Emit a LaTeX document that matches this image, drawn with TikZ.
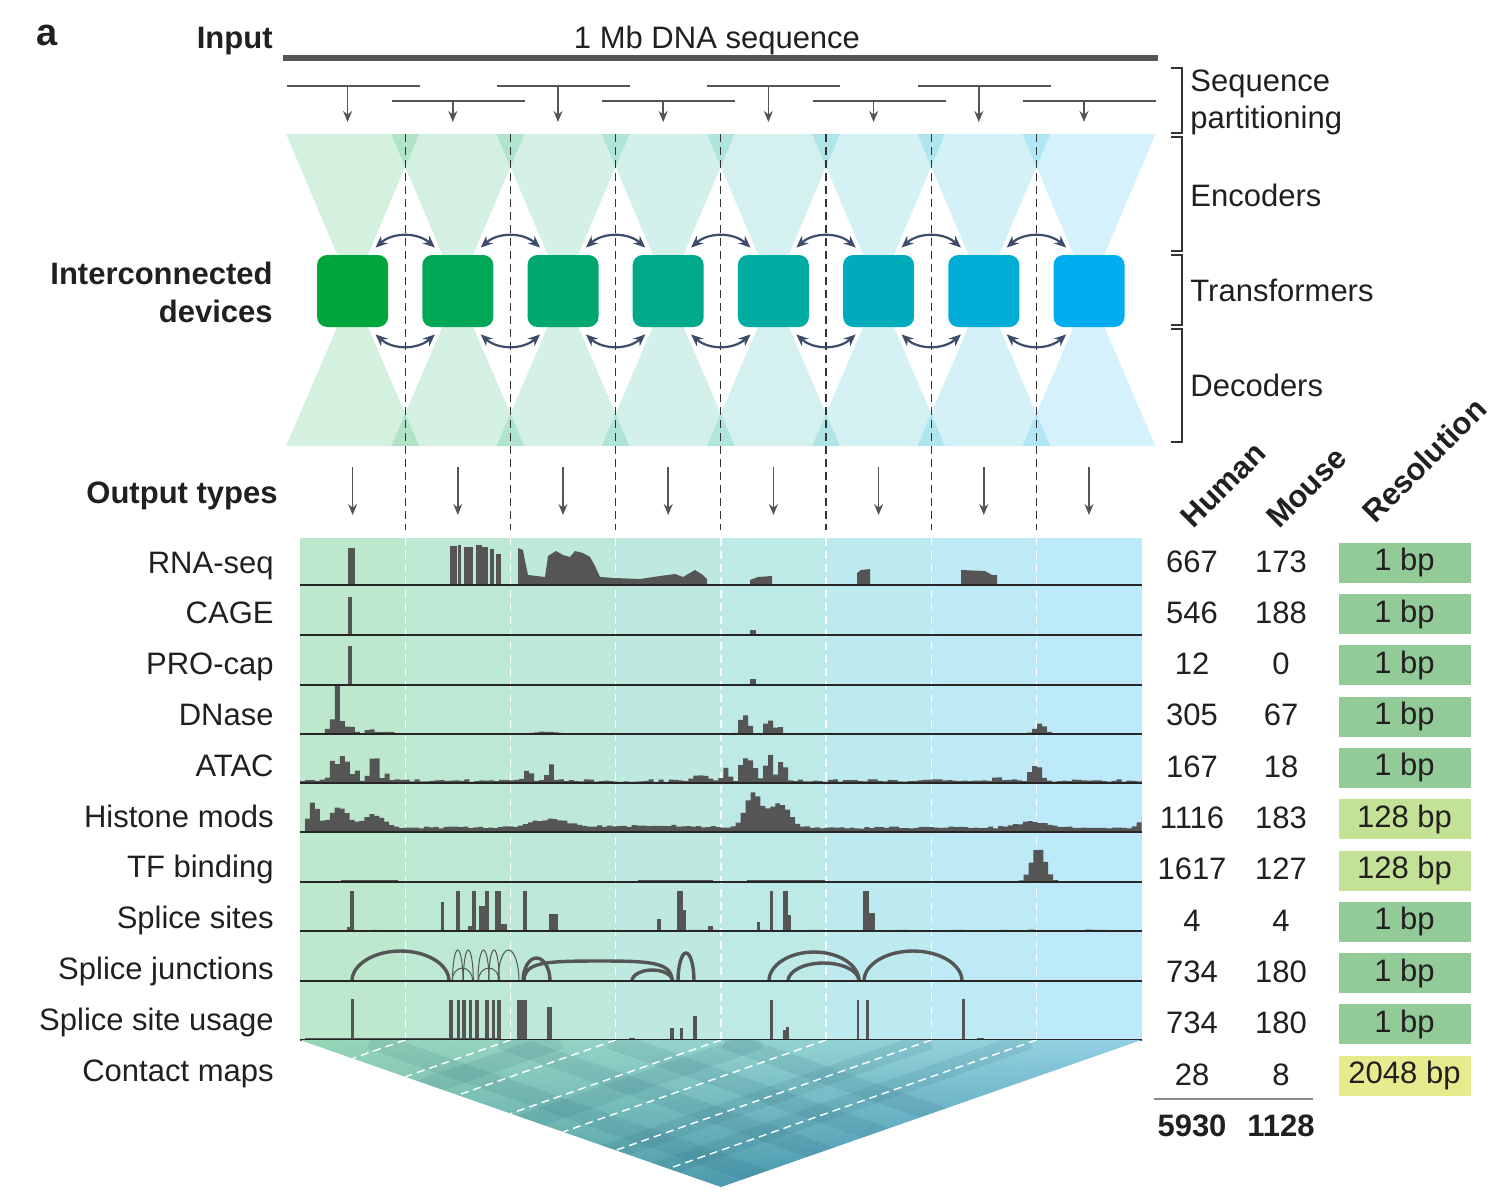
\documentclass[tikz,border=0pt]{standalone}
\usepackage{fontspec}
\setmainfont{Liberation Sans}
\usetikzlibrary{arrows.meta,shadings}

\definecolor{ink}{HTML}{555555}
\definecolor{txt}{HTML}{231F20}
\definecolor{devA}{RGB}{0,166,60}
\definecolor{devB}{RGB}{0,174,239}
\definecolor{linkc}{HTML}{3D4C6B}
\definecolor{resA}{RGB}{146,203,151}
\definecolor{resB}{RGB}{196,226,150}
\definecolor{resC}{RGB}{230,236,142}
\definecolor{cmA}{RGB}{150,214,182}
\definecolor{cmB}{RGB}{146,208,228}
\definecolor{cmC}{RGB}{92,166,160}
\definecolor{cmD}{RGB}{58,140,186}
\definecolor{cmDark}{RGB}{25,85,105}

\newcommand{\basefont}{\fontsize{15.5pt}{18.5pt}\selectfont}
% one gaussian bump of a track, #1 centre, #2 width, #3 height
\newcommand{\pk}[3]{(#3)*exp(-1*pow(min(abs(\x-(#1))/(#2),3.5),2))}
% one splice junction arc: x1, x2, base, top
\newcommand{\junc}[5][]{%
  \draw[jn,#1] (#2,#4) .. controls (#2,{#4-0.55*(#4-#5)}) and ({(#2+#3)/2-0.55*(#3-#2)/2},#5) .. ({(#2+#3)/2},#5)
    .. controls ({(#2+#3)/2+0.55*(#3-#2)/2},#5) and (#3,{#4-0.55*(#4-#5)}) .. (#3,#4);}

\tikzset{
  feed/.style={draw=ink, line width=0.8pt, -{Stealth[length=5.5pt,width=4.5pt]}},
  link/.style={draw=linkc, line width=1.1pt, {Stealth[length=6pt,width=5pt]}-{Stealth[length=6pt,width=5pt]}},
  device/.style={rounded corners=5pt, minimum width=35.5pt, minimum height=36pt},
  bdash/.style={draw=black!80, line width=0.55pt, dash pattern=on 4pt off 2.5pt},
  wdash/.style={draw=white, line width=0.7pt, dash pattern=on 4pt off 2.5pt},
  brk/.style={draw=black!80, line width=0.6pt},
  trk/.style={fill=ink},
  jn/.style={draw=ink, line width=1.7pt},
  resbox/.style={minimum width=66pt, minimum height=20pt},
  bold/.style={font=\basefont\bfseries},
}

\begin{document}
\begin{tikzpicture}[x=0.5pt, y=-0.5pt, inner sep=0pt, font=\basefont, text=txt]
\useasboundingbox (0,0) rectangle (1508,1200);
\pgfmathsetseed{11}

% left side titles
\node[anchor=base, font=\fontsize{19pt}{22pt}\selectfont\bfseries] (panel) at (47,45) {a};
\node[anchor=base east, bold] (lblIn) at (273,48) {Input};
\node[anchor=base east, bold] (lblDevA) at (273,284) {Interconnected};
\node[anchor=base east, bold] (lblDevB) at (273,322) {devices};
\node[anchor=base east, bold] (lblOut) at (278,503) {Output types};

% input sequence
\node[anchor=base] (seq) at (717,48) {1 Mb DNA sequence};
\draw[draw=ink, line width=3pt] (283,58) -- (1158,58);

% one column per device
\foreach \i in {1,...,8}{
  \pgfmathsetmacro{\c}{352.6+105.2*(\i-1)}
  \pgfmathsetmacro{\p}{(\i-1)*100/7}
  \pgfmathsetmacro{\ys}{mod(\i,2)==1 ? 86 : 101}
  \draw[draw=ink, line width=1pt] (\c-66,\ys) -- (\c+67,\ys);
  \coordinate (seg\i) at (\c-5,\ys);
  \coordinate (enc\i) at (\c-5,122);
  \draw[feed] (seg\i) -- (enc\i);
  \fill[fill={devB!\p!devA}, fill opacity=0.17] (\c-66.5,134) -- (\c+66.5,134) -- (\c,291) -- cycle;
  \fill[fill={devB!\p!devA}, fill opacity=0.17] (\c-66.5,446) -- (\c+66.5,446) -- (\c,291) -- cycle;
  \fill[fill={devB!\p!devA}, fill opacity=0.26] (\c-52.6,538) rectangle (\c+52.6,1040);
  \coordinate (dec\i) at (\c,467);
  \coordinate (out\i) at (\c,515);
  \draw[feed] (dec\i) -- (out\i);
}

% borders between the partitions
\foreach \j in {1,...,7}{
  \pgfmathsetmacro{\xb}{300+105.2*\j}
  \draw[bdash] (\xb,134) -- (\xb,530);
  \draw[wdash] (\xb,538) -- (\xb,1040);
}

\foreach \i in {1,...,8}{
  \pgfmathsetmacro{\c}{352.6+105.2*(\i-1)}
  \pgfmathsetmacro{\p}{(\i-1)*100/7}
  \node[device, fill={devB!\p!devA}] (dev\i) at (\c,291) {};
}
\foreach \i [count=\j from 2] in {1,...,7}{
  \draw[link] ([shift={(-13,-7)}]dev\i.north east) to[bend left=42] ([shift={(13,-7)}]dev\j.north west);
  \draw[link] ([shift={(-13,7)}]dev\i.south east) to[bend right=42] ([shift={(13,7)}]dev\j.south west);
}

% brackets on the right
\draw[brk] (1171,68) -- (1182,68) -- (1182,133) -- (1171,133);
\draw[brk] (1171,137) -- (1182,137) -- (1182,251) -- (1171,251);
\draw[brk] (1171,255) -- (1182,255) -- (1182,325) -- (1171,325);
\draw[brk] (1171,329) -- (1182,329) -- (1182,442) -- (1171,442);
\node[anchor=base west] (lblSeq) at (1190,91) {Sequence};
\node[anchor=base west] (lblPart) at (1190,128) {partitioning};
\node[anchor=base west] (lblEnc) at (1190,206) {Encoders};
\node[anchor=base west] (lblTr) at (1190,301) {Transformers};
\node[anchor=base west] (lblDec) at (1190,396) {Decoders};

% RNA-seq
\fill[trk] (348,585) rectangle (355,548);
\foreach \a/\b/\t in {450.3/456.7/546, 457.7/460.5/545, 463.7/473.3/547, 475.7/481.7/545, 481.7/488.3/547, 490/494/549, 495.7/500.7/554}
  \fill[trk] (\a,585) rectangle (\b,\t);
\fill[trk] (518,585) -- (518,548) -- (523,550) -- (524,556) -- (528,575) -- (545,577) -- (548,556) -- (556,551) -- (563,555)
  -- (570,557) -- (575,551) -- (583,553) -- (590,557) -- (595,566) -- (600,577) -- (615,578) -- (640,579) -- (660,576)
  -- (675,574) -- (683,577) -- (695,570) -- (703,575) -- (707,579) -- (707,585) -- cycle;
\fill[trk] (750,585) -- (750,580) -- (758,577) -- (772,576) -- (772,585) -- cycle;
\fill[trk] (857,585) -- (857,573) -- (861,570) -- (870,569) -- (870,585) -- cycle;
\fill[trk] (961,585) -- (961,570) -- (985,571) -- (992,575) -- (997,575) -- (997,585) -- cycle;
% CAGE and PRO-cap
\fill[trk] (348,635) rectangle (352,597);
\fill[trk] (750,635) rectangle (756,630);
\fill[trk] (348,685) rectangle (352,646);
\fill[trk] (750,685) rectangle (756,679);
% DNase
\fill[trk, domain=300:1141.6, samples=170, variable=\x, const plot] plot ({\x},{734-(0.8*rnd+\pk{336}{3}{44}+\pk{331}{6}{14}
  +\pk{347}{6}{8}+\pk{368}{6}{5}+\pk{385}{8}{2}+\pk{545}{15}{2}+\pk{741}{4}{22}+\pk{747}{3}{8}+\pk{766}{4}{17}
  +\pk{776}{4}{9}+\pk{1038}{7}{10})}) -- (1141.6,734) -- (300,734) -- cycle;
% ATAC
\fill[trk, domain=300:1141.6, samples=170, variable=\x, const plot] plot ({\x},{783-(1.2+2.5*rnd+\pk{332}{5}{22}+\pk{342}{4}{32}
  +\pk{353}{4}{12}+\pk{372}{5}{28}+\pk{385}{4}{6}+\pk{526}{5}{12}+\pk{548}{4}{17}+\pk{700}{12}{5}+\pk{724}{4}{12}
  +\pk{741}{3}{36}+\pk{750}{4}{24}+\pk{767}{5}{27}+\pk{780}{4}{22}+\pk{995}{5}{4}+\pk{1030}{3}{24}+\pk{1038}{3}{16})})
  -- (1141.6,783) -- (300,783) -- cycle;
% Histone mods
\fill[trk, domain=305:1141.6, samples=170, variable=\x, const plot] plot ({\x},{832-(3.5+2*rnd+\pk{311}{6}{26}+\pk{337}{13}{20}
  +\pk{372}{13}{13}+\pk{548}{28}{8}+\pk{652}{60}{2}+\pk{751}{11}{34}+\pk{777}{14}{24}+\pk{1030}{20}{6}+\pk{1141}{5}{10})})
  -- (1141.6,832) -- (305,832) -- cycle;
% TF binding
\foreach \a/\b/\t in {341/398/879.5, 410/480/880.5, 638/713/880.3, 747/825/879.5}
  \fill[trk] (\a,882) rectangle (\b,\t);
\fill[trk, domain=1004:1058, samples=12, variable=\x, const plot] plot ({\x},{882-\pk{1036}{10}{34}}) -- (1058,882) -- (1004,882) -- cycle;
% Splice sites
\fill[trk, domain=300:1141.6, samples=120, variable=\x, const plot] plot ({\x},{931-1.3*rnd}) -- (1141.6,931) -- (300,931) -- cycle;
\foreach \a/\b/\t in {347/350/927, 350/354/891, 440.7/444.3/902, 456/460/891, 468/472/926, 472.3/475.7/891, 478.7/485/906,
  485/489/891, 494.7/501.3/891, 501.3/507.3/924, 523.3/526.7/891, 549/558.3/914, 656.7/660.7/919, 676.7/683.3/891,
  683.3/686/910, 708.3/712.7/926, 756.7/760/922, 770/772.7/891, 782.7/788/891, 788/790.7/915, 862.7/869/891, 869/875/913}
  \fill[trk] (\a,931) rectangle (\b,\t);
% Splice junctions
\junc{352}{449}{981}{951}
\junc[line width=0.5pt]{452.5}{463}{981}{950}
\junc[line width=0.5pt]{463.3}{473.3}{981}{950}
\junc[line width=0.5pt]{478}{489}{981}{950}
\junc[line width=0.5pt]{488.7}{499.3}{981}{950}
\junc[line width=0.5pt]{498}{519}{981}{950}
\junc[line width=0.5pt]{452}{472.7}{981}{968}
\junc[line width=0.5pt]{478.3}{499.3}{981}{968}
\junc{523}{550}{981}{958}
\draw[jn] (524,981) .. controls (524,962) and (545,961) .. (600,961) .. controls (650,961) and (672,962) .. (672,981);
\junc{632}{672.5}{981}{970}
\junc{678}{694}{981}{953}
\junc{769}{859}{981}{952}
\junc{788}{859}{981}{963}
\junc{864}{962}{981}{951}
% Splice site usage
\fill[trk] (305,1040) rectangle (500,1038.3);
\foreach \a/\b/\t in {350.7/354/999, 449.3/453.3/1000, 456.7/460/1000, 462.3/465.7/1000, 468.7/472/1000, 475/478.7/1000,
  485.3/488.7/1000, 491.7/495/1000, 497.3/500.7/1000, 517.3/526.7/1000, 547.3/551.7/1007, 629.3/635/1037.5, 670/674/1028,
  680/683.3/1028, 693.3/696.7/1015.7, 770/772.7/1000, 782.7/786/1030, 786/789.3/1027, 856.7/859.3/1000, 865.7/869/1000,
  961.7/965/999, 977.3/984.3/1037.5}
  \fill[trk] (\a,1040) rectangle (\b,\t);
% track baselines
\foreach \y in {585,635,685,734,783,832,882,931,981,1040}
  \draw[black!85, line width=0.8pt] (300,\y) -- (1141.6,\y);

% contact map
\begin{scope}
  \clip (300,1040) -- (1141.6,1040) -- (721,1187) -- cycle;
  \shade[upper left=cmA, upper right=cmB, lower left=cmC, lower right=cmD] (300,1040) rectangle (1141.6,1187);
  \foreach \s in {370,500,610,725}
    \draw[cmDark, line width=9pt, opacity=0.1] (\s,1040) -- ++(421,147);
  \foreach \s in {560,760,930,1030}
    \draw[cmDark, line width=9pt, opacity=0.1] (\s,1040) -- ++(-420.6,147);
  \foreach \j in {1,...,7}{
    \pgfmathsetmacro{\xb}{300+105.2*\j}
    \pgfmathsetmacro{\tt}{(\xb-300)/841.6}
    \draw[wdash] (\xb,1040) -- ({\xb-420.6*\tt},{1040+147*\tt});
  }
\end{scope}

% track names
\foreach \t [count=\k] in {RNA-seq, CAGE, PRO-cap, DNase, ATAC, Histone mods, TF binding, Splice sites, Splice junctions,
  Splice site usage, Contact maps}{
  \pgfmathsetmacro{\yb}{573+50.8*(\k-1)}
  \node[anchor=base east] (trk\k) at (274,\yb) {\t};
}

% table on the right
\node[anchor=base west, rotate=45, bold] (hdrH) at (1193,530) {Human};
\node[anchor=base west, rotate=45, bold] (hdrM) at (1279,530) {Mouse};
\node[anchor=base west, rotate=45, bold] (hdrR) at (1375,525) {Resolution};
\foreach \h/\m/\r/\cl [count=\k] in {667/173/1/resA, 546/188/1/resA, 12/0/1/resA, 305/67/1/resA, 167/18/1/resA,
  1116/183/128/resB, 1617/127/128/resB, 4/4/1/resA, 734/180/1/resA, 734/180/1/resA, 28/8/2048/resC}{
  \pgfmathsetmacro{\yb}{572+51.3*(\k-1)}
  \pgfmathsetmacro{\yc}{562.7+51.3*(\k-1)}
  \node[anchor=base] (hum\k) at (1192,\yb) {\h};
  \node[anchor=base] (mou\k) at (1281,\yb) {\m};
  \node[resbox, fill=\cl] (res\k) at (1404.5,\yc) {\r~bp};
}
\draw[black!45, line width=0.8pt] (1154,1099) -- (1313,1099);
\node[anchor=base, bold] (totH) at (1192,1136) {5930};
\node[anchor=base, bold] (totM) at (1281,1136) {1128};
\end{tikzpicture}
\end{document}
